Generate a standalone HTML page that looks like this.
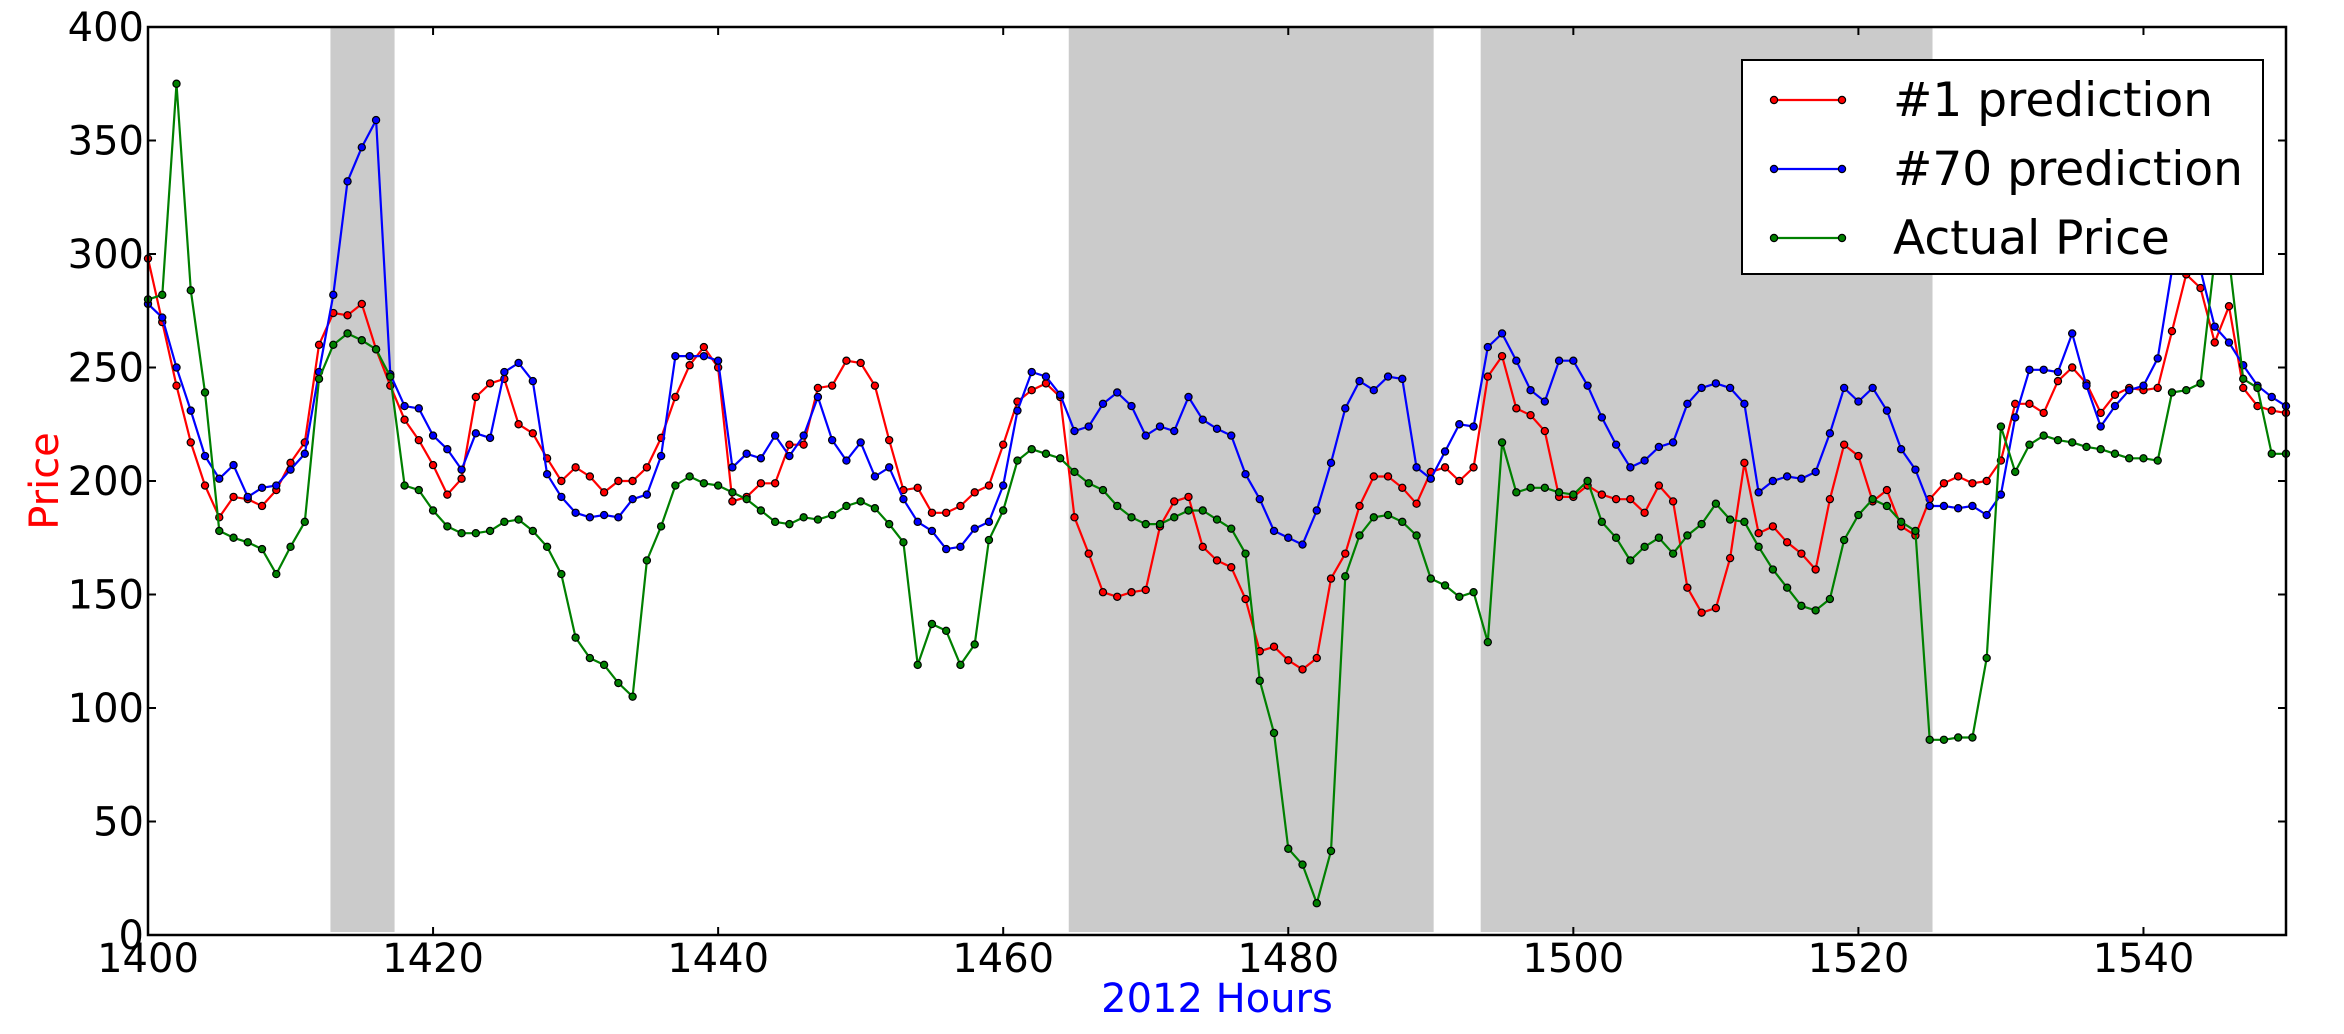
<!DOCTYPE html>
<html><head><meta charset="utf-8"><style>
html,body{margin:0;padding:0;background:#fff;}
svg{display:block;font-family:"DejaVu Sans","Liberation Sans",sans-serif;}
</style></head><body>
<svg id="chart" width="2344" height="1034" viewBox="0 0 2344 1034" xmlns="http://www.w3.org/2000/svg">
<g id="shades"></g>
<g id="series"></g>
<rect x="148" y="27" width="2138" height="908" fill="none" stroke="#000" stroke-width="2.5"/>
<g id="ticks"></g>
<text x="0" y="0" transform="translate(58,481) rotate(-90)" text-anchor="middle" font-size="40" fill="#ff0000">Price</text>
<text x="1217" y="1012" text-anchor="middle" font-size="40" fill="#0000ff">2012 Hours</text>
<g>
<rect x="1742" y="60" width="521" height="214" fill="#fff" stroke="#000" stroke-width="2"/>
<g id="legendItems"></g>
</g>
</svg>
<script>
const hours0 = 1400;
const actualPrice = [280,282,375,284,239,178,175,173,170,159,171,182,245,260,265,262,258,246,198,196,187,180,177,177,178,182,183,178,171,159,131,122,119,111,105,165,180,198,202,199,198,195,192,187,182,181,184,183,185,189,191,188,181,173,119,137,134,119,128,174,187,209,214,212,210,204,199,196,189,184,181,181,184,187,187,183,179,168,112,89,38,31,14,37,158,176,184,185,182,176,157,154,149,151,129,217,195,197,197,195,194,200,182,175,165,171,175,168,176,181,190,183,182,171,161,153,145,143,148,174,185,192,189,182,178,86,86,87,87,122,224,204,216,220,218,217,215,214,212,210,210,209,239,240,243,298,298,245,241,212,212];
const pred1 = [298,270,242,217,198,184,193,192,189,196,208,217,260,274,273,278,258,242,227,218,207,194,201,237,243,245,225,221,210,200,206,202,195,200,200,206,219,237,251,259,250,191,193,199,199,216,216,241,242,253,252,242,218,196,197,186,186,189,195,198,216,235,240,243,237,184,168,151,149,151,152,180,191,193,171,165,162,148,125,127,121,117,122,157,168,189,202,202,197,190,204,206,200,206,246,255,232,229,222,193,193,198,194,192,192,186,198,191,153,142,144,166,208,177,180,173,168,161,192,216,211,191,196,180,176,192,199,202,199,200,209,234,234,230,244,250,243,230,238,241,240,241,266,291,285,261,277,241,233,231,230];
const pred70 = [278,272,250,231,211,201,207,193,197,198,205,212,248,282,332,347,359,247,233,232,220,214,205,221,219,248,252,244,203,193,186,184,185,184,192,194,211,255,255,255,253,206,212,210,220,211,220,237,218,209,217,202,206,192,182,178,170,171,179,182,198,231,248,246,238,222,224,234,239,233,220,224,222,237,227,223,220,203,192,178,175,172,187,208,232,244,240,246,245,206,201,213,225,224,259,265,253,240,235,253,253,242,228,216,206,209,215,217,234,241,243,241,234,195,200,202,201,204,221,241,235,241,231,214,205,189,189,188,189,185,194,228,249,249,248,265,242,224,233,240,242,254,293,300,293,268,261,251,242,237,233];
const shadeStarts = [1412.8, 1464.6, 1493.5];
const shadeEnds = [1417.3, 1490.2, 1525.2];
const xTicks = [1400,1420,1440,1460,1480,1500,1520,1540];
const yTicks = [0,50,100,150,200,250,300,350,400];
const seriesNames = ["#1 prediction","#70 prediction","Actual Price"];
const seriesColors = ["#ff0000","#0000ff","#008000"];

const L=148,R=2286,T=27,B=935;
const xS = h => L + (h-1400)*(R-L)/150;
const yS = v => B - v*(B-T)/400;
const NS="http://www.w3.org/2000/svg";
function mk(tag, parent, attrs){const e=document.createElementNS(NS,tag);for(const k in attrs)e.setAttribute(k,attrs[k]);parent.appendChild(e);return e;}

const sh=document.getElementById('shades');
shadeStarts.forEach((s,i)=>{
  const r=mk('rect',sh,{x:xS(s),y:T,width:xS(shadeEnds[i])-xS(s),height:B-T-3,fill:'#cbcbcb'});
  
  
});

const sg=document.getElementById('series');
[pred1,pred70,actualPrice].forEach((arr,si)=>{
  const g=mk('g',sg,{});
  
  
  const pts=arr.map((v,i)=>xS(hours0+i).toFixed(1)+','+yS(v).toFixed(1)).join(' ');
  mk('polyline',g,{points:pts,fill:'none',stroke:seriesColors[si],'stroke-width':2.2,'stroke-linejoin':'round'});
  arr.forEach((v,i)=>{
    const c=mk('circle',g,{cx:xS(hours0+i),cy:yS(v),r:3.6,fill:seriesColors[si],stroke:'#000','stroke-width':1.2});
    
    
  });
});

const tg=document.getElementById('ticks');
xTicks.forEach(t=>{
  const x=xS(t);
  mk('line',tg,{x1:x,y1:B,x2:x,y2:B-8,stroke:'#000','stroke-width':2});
  mk('line',tg,{x1:x,y1:T,x2:x,y2:T+8,stroke:'#000','stroke-width':2});
  const tx=mk('text',tg,{x:x,y:972,'text-anchor':'middle','font-size':40,fill:'#000'});
  tx.textContent=t;
  
  
});
yTicks.forEach(t=>{
  const y=yS(t);
  mk('line',tg,{x1:L,y1:y,x2:L+8,y2:y,stroke:'#000','stroke-width':2});
  mk('line',tg,{x1:R,y1:y,x2:R-8,y2:y,stroke:'#000','stroke-width':2});
  const tx=mk('text',tg,{x:144,y:y+14,'text-anchor':'end','font-size':40,fill:'#000'});
  tx.textContent=t;
  
  
});

const lg=document.getElementById('legendItems');
seriesNames.forEach((n,i)=>{
  const y=100+i*69;
  const g=mk('g',lg,{});
  
  
  mk('line',g,{x1:1774,y1:y,x2:1842,y2:y,stroke:seriesColors[i],'stroke-width':2.2});
  mk('circle',g,{cx:1774,cy:y,r:3.6,fill:seriesColors[i],stroke:'#000','stroke-width':1.2});
  mk('circle',g,{cx:1842,cy:y,r:3.6,fill:seriesColors[i],stroke:'#000','stroke-width':1.2});
  const t=mk('text',g,{x:1893,y:y+16,'font-size':47,fill:'#000'});
  t.textContent=n;
});
</script>
</body></html>
